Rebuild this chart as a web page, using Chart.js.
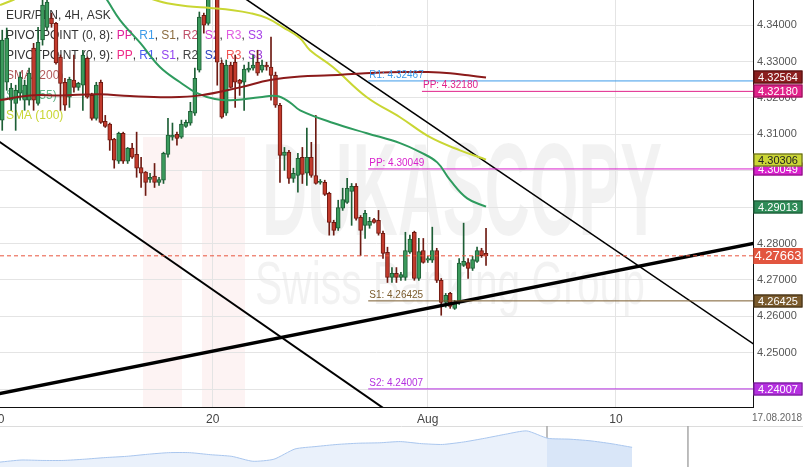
<!DOCTYPE html>
<html><head><meta charset="utf-8">
<script src="https://cdn.jsdelivr.net/npm/chart.js@4.4.1/dist/chart.umd.min.js"></script>
<style>
html,body{margin:0;padding:0;background:#fff;}
#wrap{position:relative;width:803px;height:467px;overflow:hidden;background:#fff;}
#main{position:absolute;left:0;top:0;}
#nav{position:absolute;left:0;top:426px;}
</style></head><body>
<div id="wrap"><canvas id="main" width="803" height="430"></canvas><canvas id="nav" width="803" height="41"></canvas></div>
<script>
// ---------------- DATA ----------------
const candleOpen = [4.3139,4.3243,4.3194,4.3185,4.3213,4.3194,4.3194,4.3337,4.3185,4.3359,
4.3394,4.3419,4.3405,4.3312,4.3243,4.3202,4.3249,4.3229,4.3235,4.3309,
4.3207,4.3144,4.3243,4.3136,4.3128,4.3087,4.3026,4.3103,4.3026,4.3062,
4.3045,4.3009,4.2996,4.2976,4.2985,4.2968,4.2974,4.3045,4.3092,4.3100,
4.3092,4.3122,4.3131,4.3158,4.3276,4.3427,4.3405,4.3480,4.3475,4.3296,
4.3158,4.3290,4.3298,4.3249,4.3243,4.3276,4.3282,4.3298,4.3276,4.3290,
4.3285,4.3262,4.3180,4.3042,4.3051,4.2979,4.2987,4.3037,4.2993,4.3037,
4.2987,4.2968,4.2968,4.2938,4.2858,4.2842,4.2897,4.2913,4.2943,4.2957,
4.2872,4.2850,4.2850,4.2866,4.2864,4.2828,4.2776,4.2707,4.2718,4.2707,
4.2707,4.2776,4.2831,4.2704,4.2781,4.2754,4.2754,4.2781,4.2699,4.2638,
4.2663,4.2622,4.2638,4.2740,4.2748,4.2732,4.2751,4.2781,4.2773];
const candleHigh = [4.3386,4.3392,4.3240,4.3235,4.3271,4.3249,4.3282,4.3350,4.3394,4.3472,
4.3482,4.3433,4.3408,4.3318,4.3254,4.3257,4.3318,4.3243,4.3331,4.3312,
4.3213,4.3243,4.3249,4.3152,4.3131,4.3089,4.3106,4.3106,4.3064,4.3075,
4.3106,4.3037,4.2998,4.2993,4.3020,4.2982,4.3051,4.3144,4.3131,4.3106,
4.3139,4.3139,4.3188,4.3282,4.3436,4.3433,4.3482,4.3505,4.3482,4.3304,
4.3304,4.3298,4.3318,4.3251,4.3290,4.3298,4.3318,4.3331,4.3304,4.3298,
4.3367,4.3271,4.3185,4.3064,4.3056,4.3007,4.3048,4.3064,4.3117,4.3078,
4.3152,4.2976,4.2974,4.2941,4.2864,4.2919,4.2952,4.2979,4.2965,4.2965,
4.2877,4.2891,4.2872,4.2869,4.2891,4.2834,4.2790,4.2734,4.2734,4.2721,
4.2831,4.2823,4.2834,4.2814,4.2814,4.2765,4.2845,4.2787,4.2704,4.2663,
4.2666,4.2644,4.2759,4.2856,4.2759,4.2765,4.2790,4.2787,4.2842];
const candleLow = [4.3111,4.3221,4.3166,4.3111,4.3194,4.3166,4.3180,4.3166,4.3180,4.3345,
4.3386,4.3394,4.3293,4.3166,4.3166,4.3174,4.3216,4.3221,4.3166,4.3199,
4.3139,4.3139,4.3130,4.3119,4.3056,4.3007,4.3020,4.3020,4.3020,4.3034,
4.2982,4.2954,4.2932,4.2968,4.2954,4.2960,4.2965,4.3037,4.3084,4.3070,
4.3089,4.3119,4.3125,4.3152,4.3271,4.3378,4.3400,4.3471,4.3235,4.3144,
4.3152,4.3227,4.3174,4.3207,4.3166,4.3271,4.3276,4.3262,4.3271,4.3276,
4.3194,4.3174,4.2968,4.3001,4.2965,4.2968,4.2941,4.2965,4.2960,4.2982,
4.2963,4.2963,4.2932,4.2823,4.2823,4.2836,4.2891,4.2910,4.2850,4.2864,
4.2767,4.2814,4.2842,4.2856,4.2823,4.2759,4.2693,4.2693,4.2693,4.2699,
4.2699,4.2773,4.2699,4.2699,4.2746,4.2748,4.2748,4.2693,4.2603,4.2625,
4.2622,4.2619,4.2633,4.2737,4.2704,4.2726,4.2748,4.2762,4.2740];
const candleClose = [4.3359,4.3364,4.3227,4.3221,4.3257,4.3235,4.3268,4.3194,4.3353,4.3455,
4.3463,4.3403,4.3296,4.3240,4.3180,4.3251,4.3229,4.3240,4.3318,4.3202,
4.3144,4.3235,4.3133,4.3122,4.3084,4.3029,4.3103,4.3026,4.3062,4.3037,
4.3007,4.2993,4.2968,4.2982,4.2968,4.2976,4.3048,4.3098,4.3098,4.3089,
4.3128,4.3133,4.3163,4.3254,4.3422,4.3400,4.3472,4.3492,4.3298,4.3147,
4.3290,4.3229,4.3243,4.3240,4.3279,4.3282,4.3290,4.3268,4.3290,4.3285,
4.3262,4.3180,4.3042,4.3051,4.2979,4.2993,4.3034,4.2990,4.3037,4.2987,
4.2965,4.2971,4.2935,4.2858,4.2836,4.2899,4.2921,4.2952,4.2957,4.2869,
4.2836,4.2883,4.2861,4.2858,4.2828,4.2773,4.2707,4.2718,4.2707,4.2715,
4.2781,4.2812,4.2704,4.2778,4.2748,4.2759,4.2781,4.2699,4.2638,4.2658,
4.2627,4.2638,4.2746,4.2751,4.2732,4.2756,4.2781,4.2767,4.27663];

const sma200Idx = [-0.5, 6.2, 12.9, 21.8, 28.5, 37.5, 44.2, 53.1, 59.8, 66.5, 73.2, 81, 88.8, 95, 100, 104, 108];
const sma200Val = [4.3194, 4.3207, 4.3207, 4.3210, 4.3205, 4.3202, 4.3207, 4.3229, 4.3249, 4.3259, 4.3262, 4.3268, 4.3271, 4.3271, 4.3268, 4.3262, 4.32564];
const sma55Idx = [21.8, 23.4, 26.3, 30.8, 35.2, 39.7, 43.5, 47.5, 52, 57.5, 61.3, 64.2, 66.5, 73.9, 81.4, 88.8, 93.3, 97.1, 100, 103.8, 108];
const sma55Val = [4.3496, 4.3469, 4.3414, 4.3351, 4.3285, 4.3243, 4.3213, 4.3197, 4.3194, 4.3202, 4.3205, 4.3188, 4.3166, 4.3131, 4.3103, 4.3076, 4.3051, 4.3023, 4.2974, 4.2924, 4.29013];
const sma100Idx = [-0.5, 2.4, 6.2, 17.4, 28.5, 34.1, 36.8, 41.3, 46.4, 51.5, 55.3, 59.1, 62.7, 66.5, 68.7, 73.8, 81.4, 88.8, 95.5, 102.2, 108];
const sma100Val = [4.3455, 4.3469, 4.3491, 4.3510, 4.3491, 4.3469, 4.3460, 4.3452, 4.3447, 4.3441, 4.3433, 4.3419, 4.3394, 4.3364, 4.3331, 4.3285, 4.3202, 4.3147, 4.3092, 4.3056, 4.30306];

const trendStartIdx = [50, -5, -5];
const trendStartVal = [4.3508, 4.3117, 4.2377];
const trendEndIdx   = [170, 90, 170];
const trendEndVal   = [4.2505, 4.2306, 4.2806];

const pivotNames    = ['R1', 'PP', 'PP', 'S1', 'S2'];
const pivotValues   = [4.32467, 4.32180, 4.30049, 4.26425, 4.24007];
const pivotStartIdx = [81.7, 93.7, 81.7, 81.7, 81.7];

const lastPrice = 4.27663;
const badgeValues = [4.32564, 4.32180, 4.30049, 4.30306, 4.29013, 4.27663, 4.26425, 4.24007];

const xTickIdx    = [-1, 47, 95, 137];
const xTickLabels = ['10', '20', 'Aug', '10'];
const yTickVals   = [4.24, 4.25, 4.26, 4.27, 4.28, 4.29, 4.30, 4.31, 4.32, 4.33, 4.34];
const endDateLabel = '17.08.2018';

const navValues = [12,17,16,16,19,23,26,31,35,35,30,26,14,19,44,50,55,58,59,62,57,55,61,70,80,88,70,68,64,57,48];
const navHandleIdx = [25.96, 32.65];

const legendRows = [
  [['EUR/PLN, 4H, ASK','#333']],
  [['PIVOTPOINT (0, 8): ','#333'],['PP','#e0209a'],[', ','#333'],['R1','#3d9be9'],[', ','#333'],['S1','#8b6d3f'],[', ','#333'],['R2','#c0506a'],[', ','#333'],['S2','#cc3dd6'],[', ','#333'],['R3','#e05ce0'],[', ','#333'],['S3','#a640e8']],
  [['PIVOTPOINT (0, 9): ','#333'],['PP','#ee2a88'],[', ','#333'],['R1','#4a5cf0'],[', ','#333'],['S1','#9244f0'],[', ','#333'],['R2','#444'],[', ','#333'],['S2','#2d3fbf'],[', ','#333'],['R3','#f05252'],[', ','#333'],['S3','#9a38d8']],
  [['SMA (200)','rgba(150,30,30,0.75)']],
  [['SMA (55)','rgba(46,155,94,0.75)']],
  [['SMA (100)','#c9d633']]
];
const watermarkTitle = 'DUKASCOPY';
const watermarkSub = 'Swiss Banking Group';

// ---------------- STYLE ----------------
const FONT = "'Liberation Sans', Arial, sans-serif";
const xMin = -0.5, xMax = 167.6;
const yMin = 4.2351, yMax = 4.3469;
const GREEN_FILL = '#3b9a5c', GREEN_EDGE = '#1d5e35';
const RED_FILL = '#c23a2c', RED_EDGE = '#6e1a12';
const pivotColors = ['#3d9be9', '#e0228a', '#d820cc', '#7b5c2e', '#b530e0'];
const badgeStyles = [
  {bg:'#8b1e1e', bd:'#4d0f0f', fg:'#fff'},
  {bg:'#e0228a', bd:'#8a1052', fg:'#fff'},
  {bg:'#d820cc', bd:'#7e1278', fg:'#fff'},
  {bg:'#cbd636', bd:'#55591a', fg:'#222'},
  {bg:'#2e8b57', bd:'#1a5233', fg:'#fff'},
  {bg:'#e2553f', bd:'#e2553f', fg:'#fff', big:true},
  {bg:'#7a5a2c', bd:'#3a2a12', fg:'#fff'},
  {bg:'#b530e0', bd:'#6a1a88', fg:'#fff'}
];
const trendWidths = [1.6, 2, 3.6];

const isUp = i => candleClose[i] >= candleOpen[i];

const datasets = [];
const pts = (xs, ys) => xs.map((x, i) => ({x, y: ys[i]}));
datasets.push({type:'line', order:0, data: pts(sma200Idx, sma200Val), borderColor:'#8b1a1a', borderWidth:2, pointRadius:0, tension:0.4, fill:false});
datasets.push({type:'line', order:0, data: pts(sma100Idx, sma100Val), borderColor:'#c9d633', borderWidth:2, pointRadius:0, tension:0.4, fill:false});
datasets.push({type:'line', order:0, data: pts(sma55Idx, sma55Val), borderColor:'#2e9b5e', borderWidth:2, pointRadius:0, tension:0.4, fill:false});
pivotValues.forEach((v, k) => {
  datasets.push({type:'line', order:0, data:[{x:pivotStartIdx[k], y:v},{x:xMax, y:v}], borderColor:pivotColors[k], borderWidth:1, pointRadius:0, fill:false});
});
datasets.push({type:'line', order:0, data:[{x:xMin, y:lastPrice},{x:xMax, y:lastPrice}], borderColor:'#e8553e', borderWidth:1, borderDash:[4,3], pointRadius:0, fill:false});
trendStartIdx.forEach((s, k) => {
  datasets.push({type:'line', order:0, data:[{x:s, y:trendStartVal[k]},{x:trendEndIdx[k], y:trendEndVal[k]}], borderColor:'#000', borderWidth:trendWidths[k], pointRadius:0, fill:false});
});
datasets.push({type:'bar', order:1, grouped:false, barThickness:4, minBarLength:1,
  data: candleOpen.map((o, i) => ({x:i, y:[o, candleClose[i]]})),
  backgroundColor: c => isUp(c.dataIndex) ? GREEN_FILL : RED_FILL,
  borderColor: c => isUp(c.dataIndex) ? GREEN_EDGE : RED_EDGE,
  borderWidth:1, borderSkipped:false});
datasets.push({type:'bar', order:2, grouped:false, barThickness:1,
  data: candleOpen.map((o, i) => ({x:i, y:[candleLow[i], candleHigh[i]]})),
  backgroundColor: c => isUp(c.dataIndex) ? GREEN_EDGE : RED_EDGE,
  borderWidth:0});

function fitText(ctx, text, x, y, w) {
  const m = ctx.measureText(text).width;
  ctx.save(); ctx.translate(x, y); ctx.scale(w / m, 1); ctx.fillText(text, 0, 0); ctx.restore();
}

const watermarkPlugin = {
  id:'wm',
  beforeDraw(chart) {
    const {ctx, chartArea:a} = chart;
    ctx.save();
    ctx.beginPath(); ctx.rect(a.left, a.top, a.right - a.left, a.bottom - a.top); ctx.clip();
    ctx.fillStyle = 'rgba(225,50,50,0.06)';
    ctx.fillRect(143, 137, 102, 270);
    ctx.fillStyle = '#fff';
    ctx.fillRect(182, 170, 20, 237);
    ctx.fillStyle = 'rgba(0,0,0,0.05)';
    ctx.textBaseline = 'alphabetic'; ctx.textAlign = 'left';
    ctx.font = 'bold 132px ' + FONT;
    fitText(ctx, watermarkTitle, 262, 235, 400);
    ctx.font = '62px ' + FONT;
    fitText(ctx, watermarkSub, 255, 304, 390);
    ctx.restore();
  }
};

const legendPlugin = {
  id:'legendText',
  beforeDatasetsDraw(chart) {
    const ctx = chart.ctx;
    const rowsY = [16, 36, 56, 76, 96, 116];
    ctx.save();
    ctx.font = '12px ' + FONT; ctx.textBaseline = 'middle'; ctx.textAlign = 'left';
    legendRows.forEach((row, r) => {
      let x = 6;
      row.forEach(([t, c]) => { ctx.fillStyle = c; ctx.fillText(t, x, rowsY[r]); x += ctx.measureText(t).width; });
    });
    ctx.restore();
  }
};

const pivotLabelPlugin = {
  id:'pivotLabels',
  afterDatasetsDraw(chart) {
    const {ctx, scales:{x, y}} = chart;
    ctx.save();
    ctx.font = '10px ' + FONT; ctx.textBaseline = 'bottom'; ctx.textAlign = 'left';
    pivotValues.forEach((v, k) => {
      ctx.fillStyle = pivotColors[k];
      ctx.fillText(pivotNames[k] + ': ' + v.toFixed(5), x.getPixelForValue(pivotStartIdx[k]) + 1, y.getPixelForValue(v) - 1);
    });
    ctx.restore();
  }
};

const badgePlugin = {
  id:'badges',
  afterDraw(chart) {
    const {ctx, chartArea:a, scales:{y}} = chart;
    ctx.save();
    ctx.textAlign = 'center'; ctx.textBaseline = 'middle';
    badgeValues.forEach((v, k) => {
      const s = badgeStyles[k];
      const py = Math.round(y.getPixelForValue(v));
      const h = s.big ? 16 : 13;
      const x0 = a.right + 0.5, w = 49;
      ctx.fillStyle = s.bg; ctx.fillRect(x0, py - h / 2, w, h);
      ctx.strokeStyle = s.bd; ctx.lineWidth = 1; ctx.strokeRect(x0 + 0.5, py - h / 2 + 0.5, w - 1, h - 1);
      ctx.fillStyle = s.fg;
      ctx.font = (s.big ? '13px ' : '11px ') + FONT;
      ctx.fillText(v.toFixed(5), x0 + w / 2, py + 0.5);
    });
    ctx.fillStyle = '#666'; ctx.font = '10px ' + FONT;
    ctx.fillText(endDateLabel, a.right + 24, a.bottom + 11);
    ctx.restore();
  }
};

new Chart(document.getElementById('main'), {
  type:'bar',
  data:{datasets},
  options:{
    responsive:false, devicePixelRatio:1, animation:false,
    layout:{padding:0},
    plugins:{legend:{display:false}, tooltip:{enabled:false}},
    scales:{
      x:{type:'linear', min:xMin, max:xMax, offset:false, position:'bottom',
        afterBuildTicks: s => { s.ticks = xTickIdx.map(v => ({value:v})); },
        afterFit: s => { s.height = 23; s.paddingLeft = 0; s.paddingRight = 0; },
        ticks:{autoSkip:false, maxRotation:0, padding:5, color:'#444', font:{family:FONT, size:12},
          callback:(v, i) => xTickLabels[i]},
        grid:{color:'#e4e4e4', drawTicks:false, offset:false},
        border:{color:'#111', width:1}},
      y:{type:'linear', position:'right', min:yMin, max:yMax,
        afterBuildTicks: s => { s.ticks = yTickVals.map(v => ({value:v})); },
        afterFit: s => { s.width = 50; s.paddingTop = 0; s.paddingBottom = 0; },
        ticks:{padding:4, color:'#555', font:{family:FONT, size:11}, callback:v => Number(v).toFixed(5)},
        grid:{color:'#e4e4e4', drawTicks:false},
        border:{color:'#111', width:1}}
    }
  },
  plugins:[watermarkPlugin, legendPlugin, pivotLabelPlugin, badgePlugin]
});

// ---------------- NAVIGATOR ----------------
const navTopPlugin = {
  id:'navTop',
  beforeDraw(chart) {
    const ctx = chart.ctx;
    ctx.save(); ctx.strokeStyle = '#dcdcdc'; ctx.lineWidth = 1;
    ctx.beginPath(); ctx.moveTo(0, 0.5); ctx.lineTo(803, 0.5); ctx.stroke(); ctx.restore();
  }
};
new Chart(document.getElementById('nav'), {
  type:'line',
  data:{datasets:[
    {data: navValues.map((v, i) => ({x:i, y:v})), borderColor:'#a9c6ee', borderWidth:1, pointRadius:0, tension:0.2,
      fill:'origin',
      backgroundColor: c => {
        const g = c.chart.ctx.createLinearGradient(0, 0, 803, 0);
        g.addColorStop(0, '#eaf1fb'); g.addColorStop(0.681, '#eaf1fb');
        g.addColorStop(0.681, '#d9e6f8'); g.addColorStop(1, '#d9e6f8');
        return g;
      }},
    {data:[{x:navHandleIdx[0], y:0},{x:navHandleIdx[0], y:100}], borderColor:'#a8a8a8', borderWidth:1.5, pointRadius:0, fill:false},
    {data:[{x:navHandleIdx[1], y:0},{x:navHandleIdx[1], y:100}], borderColor:'#a8a8a8', borderWidth:1.5, pointRadius:0, fill:false}
  ]},
  options:{
    responsive:false, devicePixelRatio:1, animation:false,
    layout:{padding:0},
    plugins:{legend:{display:false}, tooltip:{enabled:false}},
    scales:{
      x:{type:'linear', min:0, max:38.11, display:false},
      y:{type:'linear', min:0, max:100, display:false}
    }
  },
  plugins:[navTopPlugin]
});
</script>
</body></html>
